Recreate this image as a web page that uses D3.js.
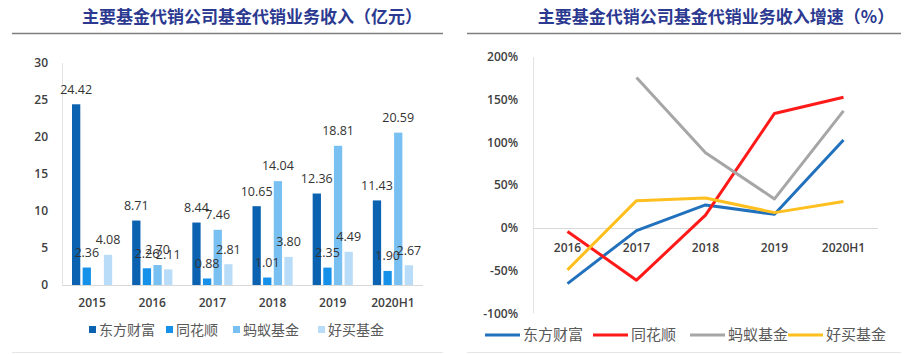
<!DOCTYPE html>
<html>
<head>
<meta charset="utf-8" />
<title>基金代销业务收入</title>
<script src="https://cdn.jsdelivr.net/npm/d3@7/dist/d3.min.js"></script>
<style>
    body { margin: 0; background: #fff; }
    text { font-family: "Open Sans", "Noto Sans CJK SC", sans-serif; }
    .title { font-family: "Noto Sans CJK SC", sans-serif; font-weight: 700; fill: #2b3990; font-size: 17px; }
    .tick-label { font-size: 12px; fill: #404040; }
    .cat-label { font-size: 12px; fill: #404040; font-weight: 600; }
    .val-label { font-size: 12.5px; fill: #333; }
    .legend { font-family: "Noto Sans CJK SC", sans-serif; font-size: 14px; fill: #595959; }
</style>
</head>
<body>
<script>
// left chart: revenue (亿元)
var years = ['2015', '2016', '2017', '2018', '2019', '2020H1'];
var seriesNames = ['东方财富', '同花顺', '蚂蚁基金', '好买基金'];
var dongfang = [24.42, 8.71, 8.44, 10.65, 12.36, 11.43];
var tonghuashun = [2.36, 2.26, 0.88, 1.01, 2.35, 1.90];
var mayi = [null, 2.70, 7.46, 14.04, 18.81, 20.59];
var haomai = [4.08, 2.11, 2.81, 3.80, 4.49, 2.67];
var revTicks = [0, 5, 10, 15, 20, 25, 30];

// right chart: growth (%)
var growthYears = ['2016', '2017', '2018', '2019', '2020H1'];
var dfGrowth = [-65, -3, 27, 16, 103];
var thsGrowth = [-4, -61, 15, 134, 153];
var myGrowth = [null, 176, 88, 34, 137];
var hmGrowth = [-49, 32, 35, 18, 31];
var growthTicks = [-100, -50, 0, 50, 100, 150, 200];

var barColors = ['#0b62b0', '#1591ea', '#79c0f2', '#b9ddf8'];
var lineColors = ['#2271bd', '#ff1a1a', '#a6a6a6', '#ffbf1f'];

var svg = d3.select('body').append('svg')
    .attr('width', 911)
    .attr('height', 354);

svg.append('rect').attr('width', 911).attr('height', 354).attr('fill', '#fff');

// titles and rules
svg.append('text').attr('class', 'title')
    .attr('x', 252).attr('y', 23).attr('text-anchor', 'middle')
    .text('主要基金代销公司基金代销业务收入（亿元）');
svg.append('text').attr('class', 'title')
    .attr('x', 716).attr('y', 23).attr('text-anchor', 'middle')
    .text('主要基金代销公司基金代销业务收入增速（%）');

[[12, 443], [467, 901]].forEach(function(r) {
    svg.append('line').attr('x1', r[0]).attr('x2', r[1]).attr('y1', 33.5).attr('y2', 33.5)
        .attr('stroke', '#7f7f7f').attr('stroke-width', 1.5);
    svg.append('line').attr('x1', r[0]).attr('x2', r[1]).attr('y1', 352.5).attr('y2', 352.5)
        .attr('stroke', '#e6e6e6').attr('stroke-width', 1);
});

// ---------- bar chart ----------
var barData = [dongfang, tonghuashun, mayi, haomai];
var x0 = d3.scaleBand().domain(years).range([62, 423]);
var x1 = d3.scaleBand().domain(d3.range(4)).range([10, x0.bandwidth() - 10]).paddingInner(0.22);
var y = d3.scaleLinear().domain([0, 30]).range([285, 63]);

var left = svg.append('g');

left.append('line').attr('x1', 62.5).attr('x2', 62.5).attr('y1', y(30)).attr('y2', y(0))
    .attr('stroke', '#e3e3e3');
left.append('line').attr('x1', 62).attr('x2', 423).attr('y1', y(0) + 0.5).attr('y2', y(0) + 0.5)
    .attr('stroke', '#d9d9d9');

left.selectAll('.ytick').data(revTicks).enter().append('text')
    .attr('class', 'tick-label')
    .attr('x', 48).attr('y', function(d) { return y(d); })
    .attr('dy', '0.35em').attr('text-anchor', 'end')
    .style('font-weight', 600)
    .text(function(d) { return d; });

left.selectAll('.xcat').data(years).enter().append('text')
    .attr('class', 'cat-label')
    .attr('x', function(d) { return x0(d) + x0.bandwidth() / 2; })
    .attr('y', 307).attr('text-anchor', 'middle')
    .text(function(d) { return d; });

// flatten so that all bars are drawn before all value labels
var barPts = [];
barData.forEach(function(vals, si) {
    years.forEach(function(yr, i) {
        if (vals[i] != null) barPts.push({ yr: yr, s: si, v: vals[i] });
    });
});

left.append('g').selectAll('rect').data(barPts).enter().append('rect')
    .attr('x', function(d) { return x0(d.yr) + x1(d.s); })
    .attr('width', x1.bandwidth())
    .attr('y', function(d) { return y(d.v); })
    .attr('height', function(d) { return y(0) - y(d.v); })
    .attr('fill', function(d) { return barColors[d.s]; });

left.append('g').selectAll('text').data(barPts).enter().append('text')
    .attr('class', 'val-label')
    .attr('x', function(d) { return x0(d.yr) + x1(d.s) + x1.bandwidth() / 2; })
    .attr('y', function(d) { return y(d.v) - 15; })
    .attr('dy', '0.35em').attr('text-anchor', 'middle')
    .text(function(d) { return d.v.toFixed(2); });

// bar legend
var barLegendX = [89, 166, 233, 318];
seriesNames.forEach(function(n, i) {
    left.append('rect').attr('x', barLegendX[i]).attr('y', 326).attr('width', 7).attr('height', 7)
        .attr('fill', barColors[i]);
    left.append('text').attr('class', 'legend')
        .attr('x', barLegendX[i] + 10).attr('y', 330).attr('dy', '0.35em')
        .text(n);
});

// ---------- line chart ----------
var lineData = [dfGrowth, thsGrowth, myGrowth, hmGrowth];
var xr = d3.scalePoint().domain(growthYears).range([533, 878]).padding(0.5);
var yr = d3.scaleLinear().domain([-100, 200]).range([313.5, 57]);

var right = svg.append('g');

right.append('line').attr('x1', 533.5).attr('x2', 533.5).attr('y1', yr(200)).attr('y2', yr(-100))
    .attr('stroke', '#e3e3e3');
right.append('line').attr('x1', 533).attr('x2', 878).attr('y1', yr(0) + 0.5).attr('y2', yr(0) + 0.5)
    .attr('stroke', '#d9d9d9');

right.selectAll('.ytick').data(growthTicks).enter().append('text')
    .attr('class', 'tick-label')
    .attr('x', 518).attr('y', function(d) { return yr(d); })
    .attr('dy', '0.35em').attr('text-anchor', 'end')
    .style('font-weight', 600)
    .text(function(d) { return d + '%'; });

right.selectAll('.xcat').data(growthYears).enter().append('text')
    .attr('class', 'cat-label')
    .attr('x', function(d) { return xr(d); })
    .attr('y', 252).attr('text-anchor', 'middle')
    .text(function(d) { return d; });

var line = d3.line()
    .defined(function(d) { return d.v != null; })
    .x(function(d) { return xr(d.yr); })
    .y(function(d) { return yr(d.v); });

lineData.forEach(function(vals, si) {
    var pts = growthYears.map(function(yrr, i) { return { yr: yrr, v: vals[i] }; });
    right.append('path')
        .datum(pts)
        .attr('d', line)
        .attr('fill', 'none')
        .attr('stroke', lineColors[si])
        .attr('stroke-width', 3)
        .attr('stroke-linejoin', 'round');
});

// line legend
var lineLegendX = [485, 593, 690, 788];
seriesNames.forEach(function(n, i) {
    right.append('line').attr('x1', lineLegendX[i]).attr('x2', lineLegendX[i] + 35)
        .attr('y1', 335).attr('y2', 335)
        .attr('stroke', lineColors[i]).attr('stroke-width', 3);
    right.append('text').attr('class', 'legend')
        .attr('x', lineLegendX[i] + 38).attr('y', 335).attr('dy', '0.35em')
        .style('font-size', '15px')
        .text(n);
});
</script>
</body>
</html>
